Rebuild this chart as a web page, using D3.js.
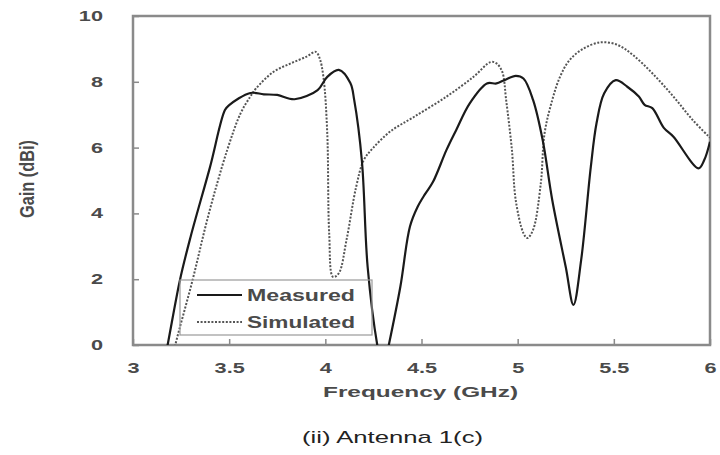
<!DOCTYPE html>
<html>
<head>
<meta charset="utf-8">
<script src="https://cdn.jsdelivr.net/npm/d3@7"></script>
<style>
  body { margin: 0; background: #fff; }
  text { font-family: "Liberation Sans", Arial, sans-serif; }
</style>
</head>
<body>
<div id="chart"></div>
<script>
// values (frequency in GHz, gain in dBi)
var measuredFreq = [3.14, 3.18, 3.245, 3.30, 3.40, 3.478, 3.50, 3.61, 3.68, 3.75, 3.84, 3.96, 4.01, 4.07, 4.13, 4.15, 4.19, 4.22, 4.27, 4.30,
                    4.33, 4.39, 4.44, 4.48, 4.52, 4.56, 4.63, 4.68, 4.75, 4.84, 4.89, 4.93, 4.99, 5.03, 5.08, 5.13, 5.18, 5.25, 5.29,
                    5.33, 5.38, 5.41, 5.45, 5.51, 5.57, 5.63, 5.66, 5.70, 5.76, 5.81, 5.94, 5.97, 6.0];
var measuredGain = [-1.2, 0, 2.0, 3.3, 5.4, 7.14, 7.29, 7.66, 7.62, 7.6, 7.47, 7.75, 8.15, 8.36, 7.96, 7.45, 5.6, 2.37, 0, -0.8,
                    0, 1.77, 3.6, 4.2, 4.6, 4.96, 5.93, 6.53, 7.34, 7.95, 7.95, 8.05, 8.18, 8.1, 7.45, 6.23, 4.4, 2.37, 1.22,
                    2.58, 5.4, 6.74, 7.65, 8.05, 7.85, 7.55, 7.3, 7.2, 6.6, 6.33, 5.37, 5.62, 6.18];

var simulatedFreq = [3.19, 3.22, 3.31, 3.39, 3.49, 3.56, 3.61, 3.64, 3.73, 3.82, 3.90, 3.95, 3.97, 3.99, 4.01, 4.02, 4.04, 4.07,
                     4.11, 4.16, 4.20, 4.25, 4.34, 4.46, 4.63, 4.77, 4.86, 4.89, 4.92, 4.94, 4.97, 4.99, 5.03, 5.05, 5.08,
                     5.12, 5.14, 5.18, 5.22, 5.27, 5.34, 5.43, 5.52, 5.60, 5.70, 5.81, 5.91, 6.0];
var simulatedGain = [-0.8, 0, 1.98, 3.9, 5.93, 7.05, 7.55, 7.8, 8.3, 8.56, 8.76, 8.91, 8.72, 8.15, 6.44, 3.4, 2.07, 2.18,
                     3.19, 4.8, 5.62, 6.0, 6.5, 6.93, 7.55, 8.15, 8.6, 8.56, 8.3, 7.45, 5.93, 4.4, 3.4, 3.25, 3.5,
                     4.9, 6.44, 7.45, 8.15, 8.66, 9.0, 9.2, 9.12, 8.81, 8.26, 7.55, 6.84, 6.3];

var xTicks = [3, 3.5, 4, 4.5, 5, 5.5, 6];
var yTicks = [0, 2, 4, 6, 8, 10];
var seriesNames = ["Measured", "Simulated"];

var width = 720, height = 455;
var plot = {left: 133, right: 710, top: 16, bottom: 345};
var stretch = 1.55; // labels in the picture are wide

var svg = d3.select("#chart").append("svg")
    .attr("width", width)
    .attr("height", height);

var x = d3.scaleLinear().domain([3, 6]).range([plot.left, plot.right]);
var y = d3.scaleLinear().domain([0, 10]).range([plot.bottom, plot.top]);

svg.append("clipPath").attr("id", "clip")
  .append("rect")
    .attr("x", plot.left).attr("y", plot.top)
    .attr("width", plot.right - plot.left)
    .attr("height", plot.bottom - plot.top);

// axes with inward ticks
var xAxis = svg.append("g")
    .attr("transform", "translate(0," + plot.bottom + ")")
    .call(d3.axisBottom(x).tickValues(xTicks).tickSizeInner(-6).tickSizeOuter(0).tickPadding(18)
      .tickFormat(function(d) { return d; }));
var yAxis = svg.append("g")
    .attr("transform", "translate(" + plot.left + ",0)")
    .call(d3.axisLeft(y).tickValues(yTicks).tickSizeInner(-6).tickSizeOuter(0).tickPadding(30));

[xAxis, yAxis].forEach(function(a) {
  a.select(".domain").remove();
  a.selectAll("line").attr("stroke", "#8a8a8a").attr("stroke-width", 1.5);
  a.selectAll("text")
    .attr("fill", "#4a4a4a")
    .style("font-size", "14px")
    .style("font-weight", "bold");
});
xAxis.selectAll("text").attr("transform", "scale(" + stretch + ",1)");
yAxis.selectAll("text")
    .attr("x", -30 / stretch)
    .attr("transform", "scale(" + stretch + ",1)");

// plot frame
svg.append("rect")
    .attr("x", plot.left).attr("y", plot.top)
    .attr("width", plot.right - plot.left)
    .attr("height", plot.bottom - plot.top)
    .attr("fill", "none")
    .attr("stroke", "#8a8a8a")
    .attr("stroke-width", 2.5);

var line = d3.line()
    .x(function(d) { return x(d[0]); })
    .y(function(d) { return y(d[1]); })
    .curve(d3.curveCatmullRom.alpha(0.5));

var measured = d3.zip(measuredFreq, measuredGain);
var simulated = d3.zip(simulatedFreq, simulatedGain);

var curves = svg.append("g").attr("clip-path", "url(#clip)");

curves.append("path")
    .datum(simulated)
    .attr("fill", "none")
    .attr("stroke", "#555")
    .attr("stroke-width", 2)
    .attr("stroke-dasharray", "2,1.6")
    .attr("d", line);

curves.append("path")
    .datum(measured)
    .attr("fill", "none")
    .attr("stroke", "#1a1a1a")
    .attr("stroke-width", 2.2)
    .attr("d", line);

// legend
var legend = svg.append("g");
legend.append("rect")
    .attr("x", 180).attr("y", 280)
    .attr("width", 192).attr("height", 55)
    .attr("fill", "none")
    .attr("stroke", "#9a9a9a")
    .attr("stroke-width", 1.2);

seriesNames.forEach(function(name, i) {
  var ly = 295 + i * 27;
  legend.append("line")
      .attr("x1", 197).attr("x2", 242)
      .attr("y1", ly).attr("y2", ly)
      .attr("stroke", i == 0 ? "#1a1a1a" : "#555")
      .attr("stroke-width", 2)
      .attr("stroke-dasharray", i == 0 ? null : "2,1.6");
  legend.append("text")
      .attr("x", 247).attr("y", ly + 6)
      .attr("textLength", 108)
      .attr("lengthAdjust", "spacingAndGlyphs")
      .attr("fill", "#4a4a4a")
      .style("font-size", "16px")
      .style("font-weight", "bold")
      .text(name);
});

// axis titles
svg.append("text")
    .attr("x", 323).attr("y", 397)
    .attr("textLength", 195)
    .attr("lengthAdjust", "spacingAndGlyphs")
    .attr("fill", "#4a4a4a")
    .style("font-size", "15px")
    .style("font-weight", "bold")
    .text("Frequency (GHz)");

svg.append("text")
    .attr("transform", "translate(34,179) scale(1.3,1) rotate(-90)")
    .attr("text-anchor", "middle")
    .attr("textLength", 78)
    .attr("lengthAdjust", "spacingAndGlyphs")
    .attr("fill", "#4a4a4a")
    .style("font-size", "15px")
    .style("font-weight", "bold")
    .text("Gain (dBi)");

svg.append("text")
    .attr("x", 302).attr("y", 443)
    .attr("textLength", 181)
    .attr("lengthAdjust", "spacingAndGlyphs")
    .attr("fill", "#222")
    .style("font-size", "17px")
    .text("(ii) Antenna 1(c)");
</script>
</body>
</html>
